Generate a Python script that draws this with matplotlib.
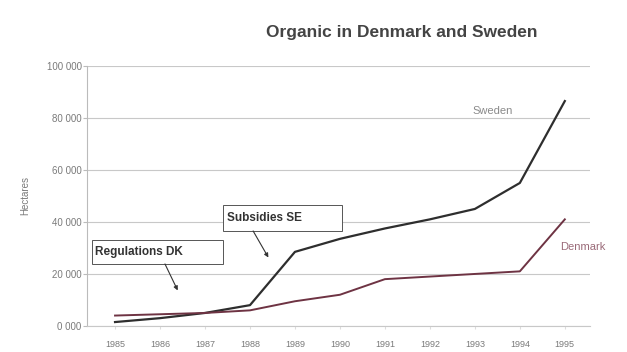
import matplotlib.pyplot as plt
from matplotlib.patches import Rectangle

# Organic farmland (hectares)
years = ["1985", "1986", "1987", "1988", "1989", "1990", "1991", "1992", "1993", "1994", "1995"]
sweden = [1500, 3000, 5000, 8000, 28500, 33500, 37500, 41000, 45000, 55000, 86500]
denmark = [4000, 4500, 5000, 6000, 9500, 12000, 18000, 19000, 20000, 21000, 41000]
y_ticks = [0, 20000, 40000, 60000, 80000, 100000]
y_labels = ["0 000", "20 000", "40 000", "60 000", "80 000", "100 000"]

plt.rcParams['font.family'] = ['Liberation Sans', 'DejaVu Sans']

fig = plt.figure(figsize=(6.27, 3.52), dpi=100)
ax = fig.add_axes([0.139, 0.074, 0.802, 0.7386])

x = list(range(len(years)))
ax.plot(x, sweden, color='#2e2e2e', linewidth=1.6)
ax.plot(x, denmark, color='#6e3343', linewidth=1.4)

ax.set_xlim(-0.62, 10.56)
ax.set_ylim(0, 100000)
ax.set_yticks(y_ticks)
ax.set_yticklabels(y_labels, fontsize=7, color='#7a7a7a')
ax.set_xticks(x)
ax.set_xticklabels(years, fontsize=6.5, color='#7a7a7a')
ax.tick_params(axis='y', length=3, color='#bbbbbb', pad=1)
ax.tick_params(axis='x', length=2, color='#dddddd', pad=8)

# light horizontal gridlines, only the left spine kept
ax.grid(axis='y', color='#c8c8c8', linewidth=0.8)
ax.set_axisbelow(True)
for s in ['top', 'right']:
    ax.spines[s].set_visible(False)
ax.spines['left'].set_color('#bbbbbb')
ax.spines['bottom'].set_color('#c8c8c8')

ax.set_ylabel("Hectares", fontsize=7, color='#7a7a7a', labelpad=12)

fig.text(0.641, 0.908, "Organic in Denmark and Sweden", ha='center', va='center',
         fontsize=12.5, fontweight='bold', color='#444444')

ax.text(7.95, 82500, "Sweden", fontsize=8, color='#8a8a8a', va='center')
ax.text(9.9, 30500, "Denmark", fontsize=8, color='#9a6a78', va='center')

# annotation boxes (drawn as rectangles, wider than the text like in the original)
arrow = dict(arrowstyle='-|>', color='#333333', lw=0.8, mutation_scale=6, shrinkA=0)
ax.add_patch(Rectangle((-0.51, 23850), 2.91, 9230, fc='white', ec='#555555', lw=0.7, zorder=3))
ax.text(-0.44, 28460, "Regulations DK", fontsize=8.5, fontweight='bold', color='#333333',
        va='center', ha='left', zorder=4)
ax.annotate("", xy=(1.42, 12700), xytext=(1.11, 23850), arrowprops=arrow)

ax.add_patch(Rectangle((2.4, 36540), 2.64, 10000, fc='white', ec='#555555', lw=0.7, zorder=3))
ax.text(2.49, 41540, "Subsidies SE", fontsize=8.5, fontweight='bold', color='#333333',
        va='center', ha='left', zorder=4)
ax.annotate("", xy=(3.44, 25400), xytext=(3.07, 36540), arrowprops=arrow)

fig.savefig("out.png", dpi=100)
